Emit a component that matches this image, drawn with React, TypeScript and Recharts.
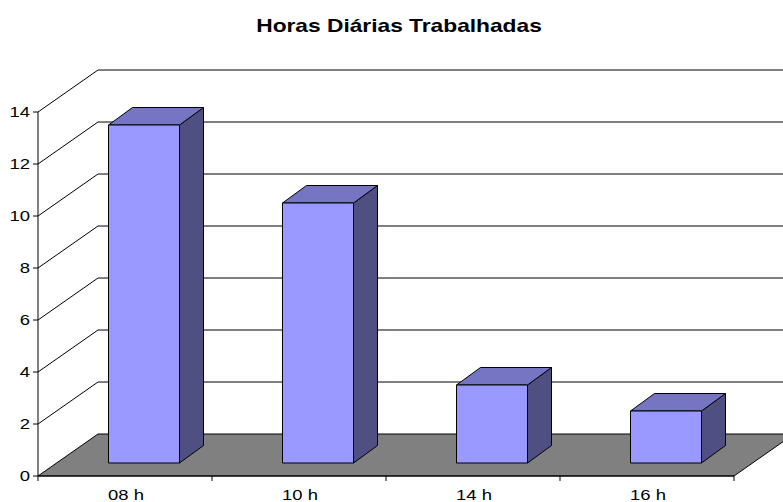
import React from "react";
import { BarChart, Bar, XAxis, YAxis, CartesianGrid } from "recharts";

const categories = ["08 h", "10 h", "14 h", "16 h"];
const hours = [13, 10, 3, 2];
const yTicks = [0, 2, 4, 6, 8, 10, 12, 14];
const title = "Horas Diárias Trabalhadas";

const data = categories.map((name, i) => ({ name, value: hours[i] }));

// perspective offsets (wall depth and bar depth)
const WALL_DX = 60;
const WALL_DY = 42;
const BAR_SHIFT_X = 18.5;
const BAR_SHIFT_Y = -13;
const BAR_DX = 24;
const BAR_DY = 17.5;
const BAND = 174;
const STRETCH = 1.23;
const FONT = "'Liberation Sans', Arial, sans-serif";

function GridLine(props: any) {
  const { x1, x2, y1 } = props;
  const y = y1;
  if (y > 470) {
    const pts = [
      [x1, y],
      [x2, y],
      [x2 + WALL_DX, y - WALL_DY],
      [x1 + WALL_DX, y - WALL_DY],
    ]
      .map((p) => p.join(","))
      .join(" ");
    return <polygon points={pts} fill="#808080" stroke="#000" strokeWidth={1} />;
  }
  return (
    <path
      d={`M${x1},${y}L${x1 + WALL_DX},${y - WALL_DY}L790,${y - WALL_DY}`}
      fill="none"
      stroke="#000"
      strokeWidth={1}
    />
  );
}

function Bar3D(props: any) {
  const { x, y, width, height } = props;
  const L = x + BAR_SHIFT_X;
  const R = L + width;
  const T = y + BAR_SHIFT_Y;
  const B = y + height + BAR_SHIFT_Y;
  return (
    <g stroke="#000" strokeWidth={1} strokeLinejoin="round">
      <polygon
        points={`${R},${T} ${R + BAR_DX},${T - BAR_DY} ${R + BAR_DX},${B - BAR_DY} ${R},${B}`}
        fill="#4F4F82"
      />
      <polygon
        points={`${L},${T} ${L + BAR_DX},${T - BAR_DY} ${R + BAR_DX},${T - BAR_DY} ${R},${T}`}
        fill="#7575C4"
      />
      <rect x={L} y={T} width={width} height={B - T} fill="#9999FF" />
    </g>
  );
}

function XTick(props: any) {
  const { x, payload, index } = props;
  return (
    <g>
      <line x1={x - BAND / 2} y1={476} x2={x - BAND / 2} y2={481} stroke="#000" />
      {index === categories.length - 1 && (
        <line x1={x + BAND / 2} y1={476} x2={x + BAND / 2} y2={481} stroke="#000" />
      )}
      <g transform={`translate(${x + 1},499.5) scale(${STRETCH},1)`}>
        <text textAnchor="middle" fontSize={15} fontFamily={FONT} fill="#000">
          {payload.value}
        </text>
      </g>
    </g>
  );
}

function YTick(props: any) {
  const { y, payload } = props;
  return (
    <g transform={`translate(30,${y}) scale(${STRETCH},1)`}>
      <text textAnchor="end" dy="0.35em" fontSize={15} fontFamily={FONT} fill="#000">
        {payload.value}
      </text>
    </g>
  );
}

export default function App() {
  return (
    <div style={{ position: "absolute", left: 0, top: 0, width: 783, height: 502, background: "#fff" }}>
      <svg width={783} height={50} style={{ position: "absolute", left: 0, top: 0 }}>
        <text
          transform={`translate(399,31.7) scale(${STRETCH},1)`}
          textAnchor="middle"
          fontSize={18.5}
          fontWeight="bold"
          fontFamily={FONT}
          fill="#000"
        >
          {title}
        </text>
      </svg>
      <BarChart
        width={783}
        height={502}
        data={data}
        margin={{ top: 112, right: 49, bottom: 0, left: 0 }}
      >
        <CartesianGrid vertical={false} horizontal={(p: any) => <GridLine key={p.key ?? p.index} {...p} />} />
        <XAxis
          dataKey="name"
          height={26}
          axisLine={{ stroke: "#000" }}
          tickLine={false}
          tick={<XTick />}
          interval={0}
        />
        <YAxis
          width={38}
          domain={[0, 14]}
          ticks={yTicks}
          interval={0}
          axisLine={{ stroke: "#000" }}
          tickLine={{ stroke: "#000" }}
          tickSize={5}
          tick={<YTick />}
        />
        <Bar dataKey="value" barSize={71} shape={<Bar3D />} isAnimationActive={false} />
      </BarChart>
    </div>
  );
}
